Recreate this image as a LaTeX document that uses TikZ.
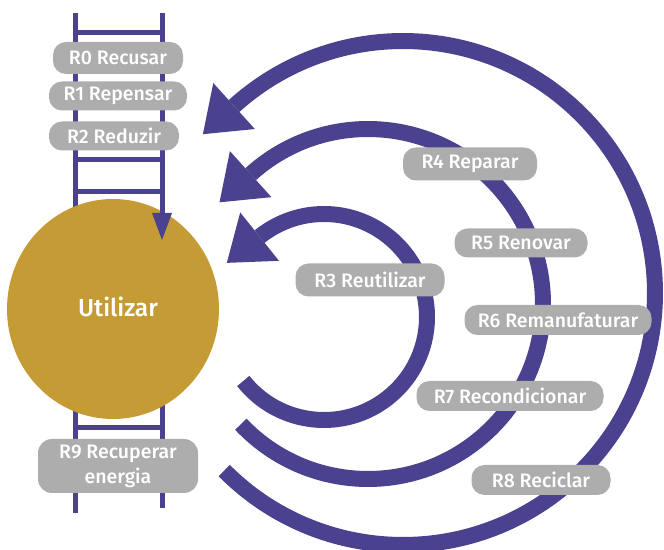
\documentclass[tikz,border=0pt]{standalone}
\usepackage{fontspec}
\setmainfont{Fira Sans}[UprightFont=* Medium]
\usetikzlibrary{arrows.meta,calc,shapes.geometric}
\definecolor{purp}{RGB}{74,66,142}
\definecolor{gold}{RGB}{197,155,54}
\definecolor{lab}{RGB}{173,173,173}
\begin{document}
\begin{tikzpicture}[x=1pt,y=1pt,
  rail/.style={draw=purp,line width=5pt},
  arcline/.style={draw=purp,line width=16pt},
  lbl/.style={fill=lab,text=white,rounded corners=13pt,minimum height=31pt,inner sep=0pt,
    font=\fontsize{19.5}{25}\selectfont,align=center}]
\useasboundingbox (0,0) rectangle (664,549);
% ladder
\coordinate (LT) at (75.5,536); \coordinate (LB) at (75.5,36);
\coordinate (RT) at (162,536); \coordinate (RB) at (162,41);
\draw[rail] (LT) -- (LB);
\draw[rail] (RT) -- (RB);
\foreach \yy in {516,389,357,121} \draw[rail] (75.5,\yy) -- (162,\yy);
% use circle
\node[ellipse,fill=gold,minimum width=212pt,minimum height=220pt,inner sep=0pt] (use) at (113,240) {};
\node[text=white,font=\fontsize{24.5}{30}\selectfont] (uset) at (118,242) {Utilizar};
\coordinate (AS) at (162,357); \coordinate (AB) at (162,336); \coordinate (AT) at (162,309);
\draw[rail] (AS) -- (AB);
\fill[purp] ($(AB)+(-10,0)$) -- ($(AB)+(10,0)$) -- (AT) -- cycle;
% loops
\coordinate (c3) at (324,232);
\coordinate (c4) at (368,245);
\coordinate (c8) at (403,256);
\draw[arcline] ($(c3)+(218.4:103)$) arc[start angle=218.4,end angle=488.7,radius=103];
\fill[purp] ($(c3)+(128.7:134)$) -- ($(c3)+(128.7:103)+(218.7:42)$) -- ($(c3)+(128.7:72)$) -- cycle;
\draw[arcline] ($(c4)+(223.4:175)$) arc[start angle=223.4,end angle=492.1,radius=175];
\fill[purp] ($(c4)+(132.1:206)$) -- ($(c4)+(132.1:175)+(222.1:42)$) -- ($(c4)+(132.1:144)$) -- cycle;
\draw[arcline] ($(c8)+(224.8:252)$) arc[start angle=224.8,end angle=492.1,radius=252];
\fill[purp] ($(c8)+(132.1:283)$) -- ($(c8)+(132.1:252)+(222.1:42)$) -- ($(c8)+(132.1:221)$) -- cycle;
% labels
\node[lbl,minimum width=130pt,minimum height=32pt] (r0) at (118,491) {R0 Recusar};
\node[lbl,minimum width=138pt,minimum height=29pt] (r1) at (118,453) {R1 Repensar};
\node[lbl,minimum width=130pt,minimum height=29pt] (r2) at (114,413) {R2 Reduzir};
\node[lbl,minimum width=149pt,minimum height=33pt] (r3) at (370,269) {R3 Reutilizar};
\node[lbl,minimum width=134pt,minimum height=33pt] (r4) at (470,385) {R4 Reparar};
\node[lbl,minimum width=133pt,minimum height=29pt] (r5) at (521,306) {R5 Renovar};
\node[lbl,minimum width=187pt,minimum height=30pt] (r6) at (558,229) {R6 Remanufaturar};
\node[lbl,minimum width=187pt,minimum height=30pt] (r7) at (510,153) {R7 Recondicionar};
\node[lbl,minimum width=139pt,minimum height=30pt] (r8) at (541,69) {R8 Reciclar};
\node[lbl,minimum width=160pt,minimum height=54pt,rounded corners=14pt] (r9) at (118,83) {R9 Recuperar\\energia};
\end{tikzpicture}
\end{document}
